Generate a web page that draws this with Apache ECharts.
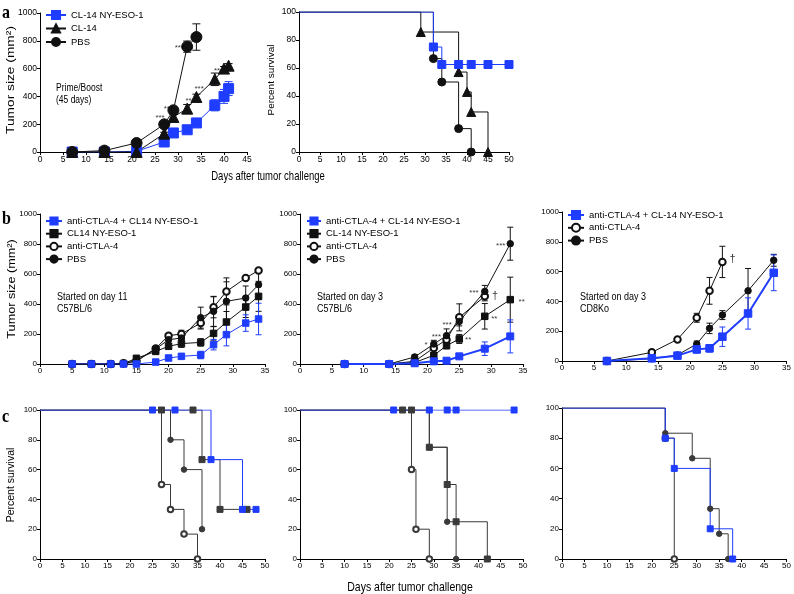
<!DOCTYPE html>
<html><head><meta charset="utf-8">
<script src="https://cdn.jsdelivr.net/npm/echarts@6/dist/echarts.min.js"></script>
<style>html,body{margin:0;padding:0;background:#fff}#c{width:794px;height:594px}</style>
</head><body><div id="c"></div>
<script>
// ================= DATA =================
// Panel a (left): tumor size, prime/boost
const a1Days = [7,14,21,27,29,32,34,38,40,41];
const a1Vax = [0,0,5,72,137,160,209,336,400,456];
const a1VaxErr = [0,0,5,10,15,15,20,40,50,50];
const a1Cl14 = [0,0,0,132,252,312,396,523,600,621];
const a1Cl14Err = [0,0,0,10,20,30,20,45,15,15];
const a1PbsDays = [7,14,21,27,29,32,34];
const a1Pbs = [0,10,65,199,300,758,827];
const a1PbsErr = [0,5,10,15,20,40,95];
const a1Stars = [[26.1,257,'***'],[27.9,324,'***'],[30.3,765,'***'],[32.3,384,'**'],[34.6,472,'***'],[38.5,595,'**']];

// Panel a (right): survival
const a2VaxT = [0,32,34,38,41,45,50];   const a2VaxS = [100,75,62.5,62.5,62.5,62.5,62.5];
const a2Cl14T = [0,29,38,40,41,45];     const a2Cl14S = [100,85.7,57.1,42.9,28.6,0];
const a2PbsT = [0,32,34,38,41];         const a2PbsS = [100,66.7,50,16.7,0];

// Panel b (left): started day 11, C57BL/6
const b1Days = [5,8,11,13,15,18,20,22,25,27,29,32,34];
const b1Combo = [0,0,0,0,0,13,40,51,60,129,196,273,300];
const b1ComboErr = [0,0,0,0,0,5,10,15,25,35,75,55,105];
const b1Vax = [0,0,0,3,38,84,118,136,144,204,280,380,451];
const b1VaxErr = [0,0,0,0,8,15,20,25,25,45,70,70,100];
const b1Ctla = [0,0,0,5,20,104,189,200,273,378,484,573,624];
const b1CtlaErr = [0,0,0,0,5,10,15,25,40,70,90,0,0];
const b1Pbs = [0,0,0,3,20,100,162,173,309,351,418,440,529];
const b1PbsErr = [0,0,0,0,5,15,25,30,70,100,130,80,100];

// Panel b (middle): started day 3, C57BL/6
const b2Days = [7,14,18,21,23,25,29,33];
const b2Combo = [0,0,5,18,22,51,102,184];
const b2ComboErr = [0,0,3,5,5,10,45,110];
const b2Vax = [0,0,10,58,122,167,318,429];
const b2VaxErr = [0,0,5,15,20,30,85,150];
const b2CtlaDays = [7,14,18,21,23,25,29];
const b2Ctla = [0,0,18,107,162,311,451];
const b2CtlaErr = [0,0,5,15,25,90,30];
const b2Pbs = [0,0,47,133,189,284,484,802];
const b2PbsErr = [0,0,15,25,45,30,40,110];
const b2Stars = [[19.8,144,'*'],[21.4,196,'***'],[23.1,277,'***'],[26.4,175,'**'],[27.3,485,'***'],[30.6,456,'†'],[30.5,317,'**'],[31.5,800,'***'],[34.8,428,'**']];

// Panel b (right): started day 3, CD8Ko
const b3Days = [7,14,18,21,23,25,29,33];
const b3Combo = [0,18,36,78,85,163,319,592];
const b3ComboErr = [0,5,10,25,25,65,105,120];
const b3CtlaDays = [7,14,18,21,23,25];
const b3Ctla = [0,58,145,290,471,665];
const b3CtlaErr = [0,5,10,30,90,105];
const b3Pbs = [0,15,40,114,219,308,471,676];
const b3PbsErr = [0,5,10,20,35,30,150,40];
const b3Stars = [[26.6,687,'†']];

// Panel c: survival
const c1ComboT = [0,25,30,38,45,48];   const c1ComboS = [100,100,100,66.7,33.3,33.3];
const c1VaxT = [0,27,34,36,40,46];     const c1VaxS = [100,100,100,66.7,33.3,33.3];
const c1CtlaT = [0,27,29,32,35];       const c1CtlaS = [100,50,33.3,16.7,0];
const c1PbsT = [0,29,32,36];           const c1PbsS = [100,80,60,20];

const c2ComboT = [0,21,29,33,35,48];   const c2ComboS = [100,100,100,100,100,100];
const c2VaxT = [0,23,25,29,33,35,42];  const c2VaxS = [100,100,100,75,50,25,0];
const c2CtlaT = [0,25,26,29];          const c2CtlaS = [100,60,20,0];
const c2PbsT = [0,29,33,35];           const c2PbsS = [100,75,25,0];

const c3ComboT = [0,23,25,33,38];      const c3ComboS = [100,80,60,20,0];
const c3CtlaT = [0,23,25];             const c3CtlaS = [100,80,0];
const c3PbsT = [0,23,29,33,35,37];     const c3PbsS = [100,83.3,66.7,33.3,16.7,0];

// ================= STYLE / LAYOUT =================
const BLUE = '#1f3dff', BLK = '#111', GRY = '#3a3a3a';
const FONT = 'Arial, sans-serif';

const panels = [
  {left:40,  top:13,  width:207, height:139, xMax:45, yMax:1000, yInt:200, fs:8.5},
  {left:299, top:12,  width:210, height:140, xMax:50, yMax:100,  yInt:20,  fs:8.5},
  {left:40,  top:214, width:225, height:150, xMax:35, yMax:1000, yInt:200, fs:8},
  {left:300, top:214, width:223, height:150, xMax:35, yMax:1000, yInt:200, fs:8},
  {left:562, top:212, width:226, height:149, xMax:35, yMax:1000, yInt:200, fs:8},
  {left:40,  top:410, width:225, height:149, xMax:50, yMax:100,  yInt:20,  fs:8},
  {left:300, top:410, width:223, height:149, xMax:50, yMax:100,  yInt:20,  fs:8},
  {left:562, top:408, width:227, height:151, xMax:50, yMax:100,  yInt:20,  fs:8}
];

const grid = panels.map(p => ({left:p.left, top:p.top, width:p.width, height:p.height, containLabel:false}));
function axisBase(p){
  return {type:'value', min:0, splitLine:{show:false},
    axisLine:{show:true, onZero:false, lineStyle:{color:'#000', width:1}},
    axisTick:{show:true, inside:false, length:3, lineStyle:{color:'#000'}},
    axisLabel:{fontSize:p.fs, color:'#000', fontFamily:FONT, margin:3, formatter:v=>String(v)}};
}
const xAxis = panels.map((p,i) => Object.assign(axisBase(p), {gridIndex:i, max:p.xMax, interval:5}));
const yAxis = panels.map((p,i) => Object.assign(axisBase(p), {gridIndex:i, max:p.yMax, interval:p.yInt}));

const series = [];
function growth(gi, name, days, vals, errs, sym, size, color, lw, cap){
  series.push({
    type:'custom', name:name+'_err', xAxisIndex:gi, yAxisIndex:gi, silent:true, z:2,
    data: days.map((d,i)=>[d, Math.max(0, vals[i]-errs[i]), vals[i]+errs[i]]).filter((_,i)=>errs[i]>0),
    encode:{x:0, y:[1,2]},
    renderItem:(params, api)=>{
      const x = api.value(0);
      const a = api.coord([x, api.value(1)]), b = api.coord([x, api.value(2)]);
      const st = {stroke:color, lineWidth:1};
      return {type:'group', children:[
        {type:'line', shape:{x1:a[0],y1:a[1],x2:b[0],y2:b[1]}, style:st},
        {type:'line', shape:{x1:a[0]-cap,y1:a[1],x2:a[0]+cap,y2:a[1]}, style:st},
        {type:'line', shape:{x1:b[0]-cap,y1:b[1],x2:b[0]+cap,y2:b[1]}, style:st}
      ]};
    }
  });
  series.push({
    type:'line', name, xAxisIndex:gi, yAxisIndex:gi, z:3,
    data: days.map((d,i)=>[d, vals[i]]),
    symbol:sym, symbolSize:size, showSymbol:true,
    lineStyle:{color, width:lw}, itemStyle:{color, borderColor:color, borderWidth:1},
    emphasis:{disabled:true}, animation:false
  });
}
function km(gi, name, times, surv, sym, size, color, lw){
  series.push({
    type:'line', name, xAxisIndex:gi, yAxisIndex:gi, step:'end', z:3,
    data: times.map((t,i)=> i===0 ? {value:[t,surv[i]], symbol:'none'} : [t,surv[i]]),
    symbol:sym, symbolSize:size, showSymbol:true,
    lineStyle:{color, width:lw||1}, itemStyle:{color, borderColor:color, borderWidth:1},
    emphasis:{disabled:true}, animation:false
  });
}
function stars(gi, items){
  series.push({
    type:'scatter', xAxisIndex:gi, yAxisIndex:gi, silent:true, z:5,
    symbolSize:1, itemStyle:{color:'rgba(0,0,0,0)'},
    data: items.map(it => it[2]==='†'
      ? {value:it, label:{fontSize:11, offset:[0,0]}}
      : {value:it}),
    label:{show:true, position:'inside', formatter:p=>p.value[2], fontSize:8, color:'#000', fontFamily:FONT, offset:[0,2]}
  });
}

// Panel a
growth(0,'CL-14 NY-ESO-1|a1', a1Days, a1Vax, a1VaxErr, 'rect', 10, BLUE, 1, 4);
growth(0,'CL-14|a1', a1Days, a1Cl14, a1Cl14Err, 'triangle', 11, BLK, 1, 4);
growth(0,'PBS|a1', a1PbsDays, a1Pbs, a1PbsErr, 'circle', 11, BLK, 1, 4);
stars(0, a1Stars);
km(1,'CL-14|a2', a2Cl14T, a2Cl14S, 'triangle', 9, BLK);
km(1,'PBS|a2', a2PbsT, a2PbsS, 'circle', 8, BLK);
km(1,'CL-14 NY-ESO-1|a2', a2VaxT, a2VaxS, 'rect', 8, BLUE);

// Panel b
growth(2,'anti-CTLA-4|b1', b1Days, b1Ctla, b1CtlaErr, 'emptyCircle', 6.5, BLK, 1, 3);
growth(2,'PBS|b1', b1Days, b1Pbs, b1PbsErr, 'circle', 6.5, BLK, 1, 3);
growth(2,'CL14 NY-ESO-1|b1', b1Days, b1Vax, b1VaxErr, 'rect', 6.5, BLK, 1, 3);
growth(2,'anti-CTLA-4 + CL14 NY-ESO-1|b1', b1Days, b1Combo, b1ComboErr, 'rect', 6.5, BLUE, 1, 3);

growth(3,'anti-CTLA-4|b2', b2CtlaDays, b2Ctla, b2CtlaErr, 'emptyCircle', 6.5, BLK, 1, 3);
growth(3,'PBS|b2', b2Days, b2Pbs, b2PbsErr, 'circle', 6.5, BLK, 1, 3);
growth(3,'CL-14 NY-ESO-1|b2', b2Days, b2Vax, b2VaxErr, 'rect', 6.5, BLK, 1, 3);
growth(3,'anti-CTLA-4 + CL-14 NY-ESO-1|b2', b2Days, b2Combo, b2ComboErr, 'rect', 7, BLUE, 2, 3);
stars(3, b2Stars);

growth(4,'anti-CTLA-4|b3', b3CtlaDays, b3Ctla, b3CtlaErr, 'emptyCircle', 6.5, BLK, 1, 3);
growth(4,'PBS|b3', b3Days, b3Pbs, b3PbsErr, 'circle', 6.5, BLK, 1, 3);
growth(4,'anti-CTLA-4 + CL-14 NY-ESO-1|b3', b3Days, b3Combo, b3ComboErr, 'rect', 7.5, BLUE, 2, 3);
stars(4, b3Stars);

// Panel c
km(5,'c1ctla', c1CtlaT, c1CtlaS, 'emptyCircle', 5.5, GRY);
km(5,'c1pbs', c1PbsT, c1PbsS, 'circle', 5.5, GRY);
km(5,'c1vax', c1VaxT, c1VaxS, 'rect', 6, GRY);
km(5,'c1combo', c1ComboT, c1ComboS, 'rect', 6, BLUE);

km(6,'c2ctla', c2CtlaT, c2CtlaS, 'emptyCircle', 5.5, GRY);
km(6,'c2pbs', c2PbsT, c2PbsS, 'circle', 5.5, GRY);
km(6,'c2vax', c2VaxT, c2VaxS, 'rect', 6, GRY);
km(6,'c2combo', c2ComboT, c2ComboS, 'rect', 6, BLUE);

km(7,'c3ctla', c3CtlaT, c3CtlaS, 'emptyCircle', 5.5, GRY);
km(7,'c3pbs', c3PbsT, c3PbsS, 'circle', 5.5, GRY);
km(7,'c3combo', c3ComboT, c3ComboS, 'rect', 6, BLUE);

// Legends
function leg(names, left, top, gap, h, w, fs){
  return {data:names, left, top, orient:'vertical', itemGap:gap, itemHeight:h, itemWidth:w,
    padding:0, selectedMode:false, formatter:n=>n.split('|')[0],
    textStyle:{fontSize:fs, color:'#000', fontFamily:FONT}};
}
const legend = [
  leg(['CL-14 NY-ESO-1|a1','CL-14|a1','PBS|a1'], 45, 10, 3.5, 10, 20, 9.5),
  leg(['anti-CTLA-4 + CL14 NY-ESO-1|b1','CL14 NY-ESO-1|b1','anti-CTLA-4|b1','PBS|b1'], 45, 216, 2.7, 9, 16, 9.5),
  leg(['anti-CTLA-4 + CL-14 NY-ESO-1|b2','CL-14 NY-ESO-1|b2','anti-CTLA-4|b2','PBS|b2'], 306, 216, 2.7, 9, 14, 9.5),
  leg(['anti-CTLA-4 + CL-14 NY-ESO-1|b3','anti-CTLA-4|b3','PBS|b3'], 567, 210, 2.8, 10, 16, 9.5)
];

// Free text
function htxt(x, y, text, fs, opts){
  opts = opts || {};
  return {type:'text', x, y, scaleY:opts.sy || 1.3, silent:true,
    style:{text, fontSize:fs, fontFamily:opts.ff || FONT, fontWeight:opts.fw || 'normal', fill:'#000',
      align:opts.align || 'left', verticalAlign:'middle'}};
}
function vtxt(x, y, text, fs, s){
  return {type:'text', x, y, rotation:Math.PI/2, scaleX:s, silent:true,
    style:{text, fontSize:fs, fontFamily:FONT, fill:'#000', align:'center', verticalAlign:'middle'}};
}
const SERIF = 'Liberation Serif, serif';
const graphic = [
  htxt(2, 13, 'a', 16, {ff:SERIF, fw:'bold', sy:1.2}),
  htxt(2, 219, 'b', 16, {ff:SERIF, fw:'bold', sy:1.2}),
  htxt(2, 417, 'c', 16, {ff:SERIF, fw:'bold', sy:1.2}),
  htxt(56, 88, 'Prime/Boost', 8.5),
  htxt(56, 100, '(45 days)', 8.5),
  htxt(57, 297, 'Started on day 11', 9),
  htxt(57, 309, 'C57BL/6', 9),
  htxt(317, 297, 'Started on day 3', 9),
  htxt(317, 309, 'C57BL/6', 9),
  htxt(580, 297, 'Started on day 3', 9),
  htxt(580, 309, 'CD8Ko', 9),
  htxt(268, 177, 'Days after tumor challenge', 9.5, {align:'center'}),
  htxt(410, 587, 'Days after tumor challenge', 10.5, {align:'center'}),
  vtxt(11, 80, 'Tumor size (mm²)', 11, 1.25),
  vtxt(271, 80, 'Percent survival', 9.5, 1.05),
  vtxt(12, 289, 'Tumor size (mm²)', 11.5, 1.1),
  vtxt(11, 485, 'Percent survival', 10, 1.05)
];

const chart = echarts.init(document.getElementById('c'), null, {renderer:'canvas'});
chart.setOption({
  backgroundColor:'#fff', animation:false,
  textStyle:{fontFamily:FONT},
  grid, xAxis, yAxis, series, legend, graphic
});
</script></body></html>
